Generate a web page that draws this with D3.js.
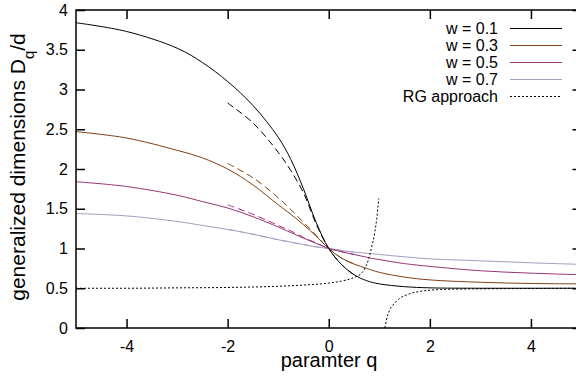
<html>
<head>
<meta charset="utf-8">
<script src='https://d3js.org/d3.v7.min.js'></script>
<style>
	body {margin: 0; background: white;}
	svg {display: block; font-family: "Liberation Sans", Arial, sans-serif;}
</style>
</head>
<body>
<svg width=576 height=377></svg>
<script>

//q grid for the solid curves
var qSolid = [-5,-4,-3,-2.5,-2,-1.5,-1,-0.75,-0.5,-0.25,0,0.25,0.5,0.75,1,1.5,2,3,4,5];
var dW01 = [3.84,3.73,3.52,3.34,3.10,2.80,2.40,2.12,1.75,1.33,1.0,0.80,0.67,0.595,0.555,0.52,0.505,0.50,0.50,0.50];
var dW03 = [2.47,2.39,2.235,2.14,2.0,1.80,1.55,1.43,1.30,1.155,1.0,0.88,0.805,0.75,0.70,0.64,0.605,0.575,0.56,0.555];
var dW05 = [1.84,1.78,1.67,1.59,1.51,1.40,1.27,1.20,1.13,1.065,1.0,0.96,0.925,0.89,0.86,0.81,0.775,0.72,0.69,0.67];
var dW07 = [1.44,1.41,1.34,1.29,1.24,1.18,1.11,1.08,1.05,1.02,1.0,0.975,0.955,0.94,0.925,0.895,0.87,0.845,0.82,0.80];

//q grid for the dashed approximations
var qDash = [-2,-1.5,-1,-0.75,-0.5,-0.25,0,0.25,0.5];
var dashW01 = [2.83,2.58,2.21,1.98,1.70,1.31,1.0,0.80,0.67];
var dashW03 = [2.07,1.89,1.64,1.49,1.33,1.165,1.0,0.88,0.805];
var dashW05 = [1.55,1.43,1.29,1.22,1.14,1.07,1.0,0.96,0.925];
var dashW07 = [1.24,1.18,1.11,1.08,1.05,1.02,1.0,0.975,0.955];

//RG approach, two branches
var qRgLeft = [-5,-4,-3,-2,-1,-0.5,0,0.25,0.5,0.65,0.78,0.85,0.91,0.95,0.99];
var dRgLeft = [0.50,0.50,0.505,0.51,0.525,0.54,0.565,0.59,0.635,0.69,0.85,1.02,1.2,1.38,1.63];
var qRgRight = [1.11,1.14,1.2,1.3,1.4,1.6,1.8,2.1,2.6,3.5,5];
var dRgRight = [0,0.1,0.22,0.31,0.37,0.43,0.46,0.48,0.49,0.495,0.50];

var legendLabels = ["w = 0.1","w = 0.3","w = 0.5","w = 0.7","RG approach"];
var colors = ["#000000","#804014","#993377","#a0a0c0"];
var xTicks = [-4,-2,0,2,4];
var yTicks = [0,0.5,1,1.5,2,2.5,3,3.5,4];

var pLeft = 76, pTop = 10, pRight = 581.5, pBottom = 328;

var x = d3.scaleLinear().domain([-5,5]).range([pLeft,pRight]);
var y = d3.scaleLinear().domain([0,4]).range([pBottom,pTop]);

var svg = d3.select("svg");

//clip area
svg.append("defs").append("clipPath")
  .attr("id","clip")
  .append("rect")
  .attr("x",pLeft).attr("y",pTop)
  .attr("width",pRight-pLeft).attr("height",pBottom-pTop);

function pairs(qs, ds) {
	return qs.map(function(q,i){ return [q, ds[i]]; });
}

var line = d3.line()
  .x(function(d){ return x(d[0]); })
  .y(function(d){ return y(d[1]); })
  .curve(d3.curveCatmullRom.alpha(0.5));

var plot = svg.append("g").attr("clip-path","url(#clip)");

var solid = [dW01,dW03,dW05,dW07];
var dashed = [dashW01,dashW03,dashW05,dashW07];

//dashed approximations
dashed.forEach(function(ds,i){
	plot.append("path")
	  .datum(pairs(qDash,ds))
	  .attr("fill","none")
	  .attr("stroke",colors[i])
	  .attr("stroke-width",1)
	  .attr("stroke-dasharray","7,4")
	  .attr("d",line);
});

//solid curves, light ones first
[3,2,1,0].forEach(function(i){
	plot.append("path")
	  .datum(pairs(qSolid,solid[i]))
	  .attr("fill","none")
	  .attr("stroke",colors[i])
	  .attr("stroke-width",1)
	  .attr("d",line);
});

//RG approach
var rgLine = d3.line()
  .x(function(d){ return x(d[0]); })
  .y(function(d){ return y(d[1]); })
  .curve(d3.curveMonotoneX);

[pairs(qRgLeft,dRgLeft), pairs(qRgRight,dRgRight)].forEach(function(p){
	plot.append("path")
	  .datum(p)
	  .attr("fill","none")
	  .attr("stroke","#000")
	  .attr("stroke-width",1)
	  .attr("stroke-dasharray","2,2")
	  .attr("d",rgLine);
});

//frame
svg.append("rect")
  .attr("x",pLeft).attr("y",pTop)
  .attr("width",pRight-pLeft).attr("height",pBottom-pTop)
  .attr("fill","none")
  .attr("stroke","#000")
  .attr("stroke-width",1.5);

//axes with inward ticks, mirrored
var tickLen = 9;
var plain = function(d){ return String(d); };
var gx = svg.append("g").attr("transform","translate(0,"+pBottom+")")
  .call(d3.axisBottom(x).tickValues(xTicks).tickSizeInner(-tickLen).tickSizeOuter(0).tickPadding(13).tickFormat(plain));
var gxt = svg.append("g").attr("transform","translate(0,"+pTop+")")
  .call(d3.axisTop(x).tickValues(xTicks).tickSizeInner(-tickLen).tickSizeOuter(0).tickFormat(""));
var gy = svg.append("g").attr("transform","translate("+pLeft+",0)")
  .call(d3.axisLeft(y).tickValues(yTicks).tickSizeInner(-tickLen).tickSizeOuter(0).tickPadding(8).tickFormat(plain));
var gyr = svg.append("g").attr("transform","translate("+pRight+",0)")
  .call(d3.axisRight(y).tickValues(yTicks).tickSizeInner(-tickLen).tickSizeOuter(0).tickFormat(""));

[gx,gxt,gy,gyr].forEach(function(g){
	g.attr("font-family",null).attr("font-size",null);
	g.select(".domain").remove();
	g.selectAll("line").attr("stroke","#000").attr("stroke-width",1.5);
	g.selectAll("text").attr("fill","#000").style("font-size","16px");
});

//axis labels
svg.append("text")
  .attr("x",329).attr("y",367)
  .attr("text-anchor","middle")
  .style("font-size","20px")
  .text("paramter q");

var ylab = svg.append("text")
  .attr("transform","translate(25,167) rotate(-90)")
  .attr("text-anchor","middle")
  .style("font-size","21px");
ylab.append("tspan").text("generalized dimensions D");
ylab.append("tspan").attr("baseline-shift","sub").style("font-size","15px").text("q");
ylab.append("tspan").text("/d");

//legend
var legend = svg.append("g");
legendLabels.forEach(function(lab,i){
	var ly = 28.5 + i*17;
	legend.append("text")
	  .attr("x",498).attr("y",ly)
	  .attr("dy","0.35em")
	  .attr("text-anchor","end")
	  .style("font-size","16px")
	  .text(lab);
	legend.append("line")
	  .attr("x1",510).attr("x2",562)
	  .attr("y1",ly).attr("y2",ly)
	  .attr("stroke", i < 4 ? colors[i] : "#000")
	  .attr("stroke-width",1)
	  .attr("stroke-dasharray", i < 4 ? null : "2,2");
});

</script>
</body>
</html>
